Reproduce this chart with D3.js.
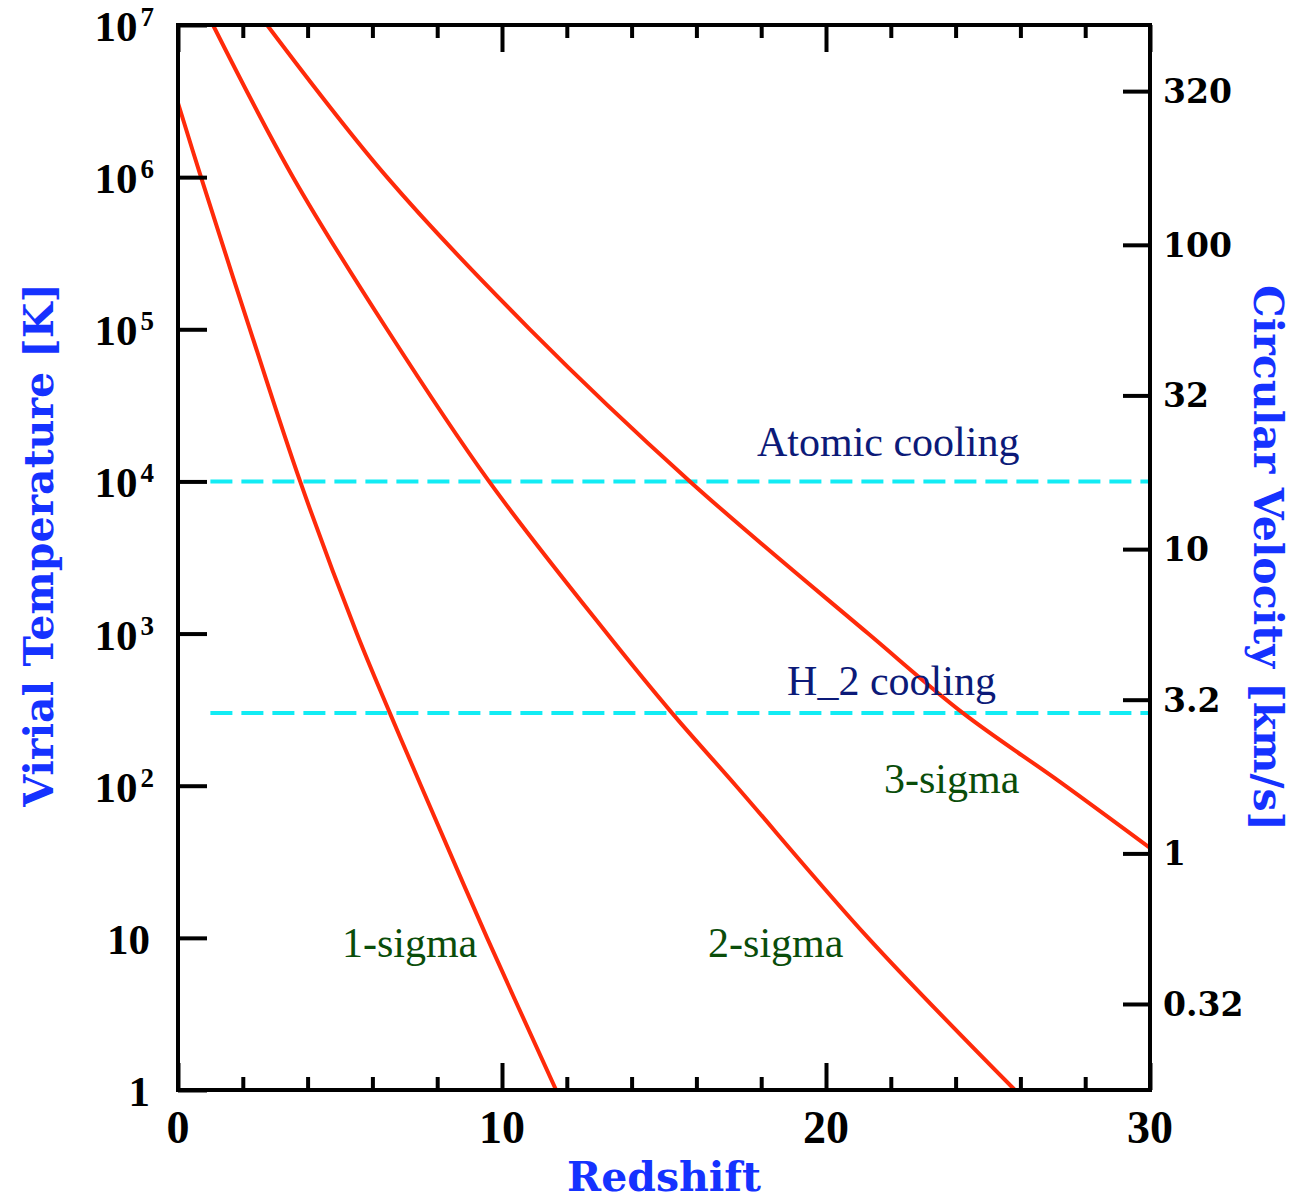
<!DOCTYPE html>
<html>
<head>
<meta charset="utf-8">
<script src="https://cdn.jsdelivr.net/npm/d3@7"></script>
<style>
  body { margin: 0; background: #fff; }
  svg { display: block; }
</style>
</head>
<body>
<svg width="1293" height="1199"></svg>
<script>
// ---- data ----
const redshiftMajor = [0, 10, 20, 30];
const redshiftMinor = [2, 4, 6, 8, 12, 14, 16, 18, 22, 24, 26, 28];
const tempTicks = [1, 10, 100, 1e3, 1e4, 1e5, 1e6, 1e7];
const velocityTicks = [0.32, 1, 3.2, 10, 32, 100, 320];
const velocityLabels = ['0.32', '1', '3.2', '10', '32', '100', '320'];

// T = tempPerV2 * v^2  (right axis conversion)
const tempPerV2 = 35.9;

const sigma1Z = [0, 0.71, 2.22, 3.77, 5.52, 6.54, 7.5, 9.54, 11.67];
const sigma1T = [3.07e6, 1e6, 1e5, 1e4, 1e3, 300, 100, 10, 1];

const sigma2Z = [1.08, 3.55, 6.45, 9.6, 13.24, 15.25, 17.22, 21.3, 25.83];
const sigma2T = [1e7, 1e6, 1e5, 1e4, 1e3, 300, 100, 10, 1];

const sigma3Z = [2.75, 6.45, 10.86, 15.8, 21.3, 24.23, 27.22, 30];
const sigma3T = [1e7, 1e6, 1e5, 1e4, 1e3, 300, 106, 39];

const coolingT = [1e4, 300];
const coolingZ = [1, 30];

const annotations = ['Atomic cooling', 'H_2 cooling', '1-sigma', '2-sigma', '3-sigma'];

// ---- layout ----
const svg = d3.select('svg');
const margin = { top: 25, left: 178, right: 143, bottom: 109 };
const width = +svg.attr('width');
const height = +svg.attr('height');
const innerWidth = width - margin.left - margin.right;
const innerHeight = height - margin.top - margin.bottom;

const x = d3.scaleLinear().domain([0, 30]).range([0, innerWidth]);
const y = d3.scaleLog().domain([1, 1e7]).range([innerHeight, 0]);
const yv = d3.scaleLog()
  .domain([Math.sqrt(1 / tempPerV2), Math.sqrt(1e7 / tempPerV2)])
  .range([innerHeight, 0]);

const g = svg.append('g')
  .attr('transform', `translate(${margin.left},${margin.top})`);

g.append('clipPath').attr('id', 'plot-clip')
  .append('rect')
  .attr('width', innerWidth)
  .attr('height', innerHeight);

// dashed cooling thresholds
g.selectAll('.cooling')
  .data(coolingT)
  .enter().append('line')
    .attr('class', 'cooling')
    .attr('x1', x(coolingZ[0]))
    .attr('x2', x(coolingZ[1]))
    .attr('y1', d => y(d))
    .attr('y2', d => y(d))
    .attr('stroke', '#12ecf4')
    .attr('stroke-width', 4)
    .attr('stroke-dasharray', '22 9');

// sigma curves
const line = d3.line()
  .x(d => x(d[0]))
  .y(d => y(d[1]))
  .curve(d3.curveCatmullRom.alpha(0.5));

const curves = [
  d3.zip(sigma1Z, sigma1T),
  d3.zip(sigma2Z, sigma2T),
  d3.zip(sigma3Z, sigma3T)
];

g.append('g')
  .attr('clip-path', 'url(#plot-clip)')
  .selectAll('path')
  .data(curves)
  .enter().append('path')
    .attr('d', line)
    .attr('fill', 'none')
    .attr('stroke', '#ff2a0a')
    .attr('stroke-width', 4);

// annotation text
const annotationPos = [
  { z: 17.87, t: 1.47e4, color: '#0c1a78' },
  { z: 18.8, t: 397, color: '#0c1a78' },
  { z: 5.06, t: 7.5, color: '#0a4d0a' },
  { z: 16.36, t: 7.5, color: '#0a4d0a' },
  { z: 21.79, t: 90, color: '#0a4d0a' }
];

g.selectAll('.note')
  .data(annotations)
  .enter().append('text')
    .attr('class', 'note')
    .attr('x', (d, i) => x(annotationPos[i].z))
    .attr('y', (d, i) => y(annotationPos[i].t))
    .attr('fill', (d, i) => annotationPos[i].color)
    .style('font-family', '"Liberation Serif", "Times New Roman", serif')
    .style('font-size', '42px')
    .text(d => d);

// ---- axes / ticks ----
const tickStyle = sel => {
  sel.select('.domain').remove();
  sel.selectAll('line').attr('stroke', '#000').attr('stroke-width', 4);
  sel.selectAll('text').remove();
};

g.append('g')
  .attr('transform', `translate(0,${innerHeight})`)
  .call(d3.axisBottom(x).tickValues(redshiftMinor).tickSize(-13))
  .call(tickStyle);
g.append('g')
  .attr('transform', `translate(0,${innerHeight})`)
  .call(d3.axisBottom(x).tickValues(redshiftMajor).tickSize(-27))
  .call(tickStyle);
g.append('g')
  .call(d3.axisTop(x).tickValues(redshiftMinor).tickSize(-13))
  .call(tickStyle);
g.append('g')
  .call(d3.axisTop(x).tickValues(redshiftMajor).tickSize(-27))
  .call(tickStyle);
g.append('g')
  .call(d3.axisLeft(y).tickValues(tempTicks).tickSize(-29))
  .call(tickStyle);
g.append('g')
  .attr('transform', `translate(${innerWidth},0)`)
  .call(d3.axisRight(yv).tickValues(velocityTicks).tickSize(-27))
  .call(tickStyle);

// frame
g.append('rect')
  .attr('width', innerWidth)
  .attr('height', innerHeight)
  .attr('fill', 'none')
  .attr('stroke', '#000')
  .attr('stroke-width', 4);

// bottom tick labels
g.selectAll('.xlab')
  .data(redshiftMajor)
  .enter().append('text')
    .attr('x', d => x(d))
    .attr('y', innerHeight + 53)
    .attr('text-anchor', 'middle')
    .style('font-family', '"Liberation Serif", serif')
    .style('font-weight', 'bold')
    .style('font-size', '46px')
    .text(d => d);

// left tick labels (10^n)
const ylab = g.selectAll('.ylab')
  .data(tempTicks)
  .enter().append('text')
    .attr('x', -24)
    .attr('y', d => y(d) + 16)
    .attr('text-anchor', 'end')
    .style('font-family', '"Liberation Serif", serif')
    .style('font-weight', 'bold')
    .style('font-size', '43px');

ylab.each(function (d) {
  const p = Math.round(Math.log10(d));
  const t = d3.select(this);
  if (p <= 1) {
    t.attr('x', -28).text(d);
  } else {
    t.append('tspan').text('10');
    t.append('tspan')
      .attr('dy', -15)
      .attr('dx', 3)
      .style('font-size', '27px')
      .text(p);
  }
});

// right tick labels
g.selectAll('.vlab')
  .data(velocityTicks)
  .enter().append('text')
    .attr('x', innerWidth + 13)
    .attr('y', d => yv(d) + 12)
    .style('font-family', '"DejaVu Serif", serif')
    .style('font-weight', 'bold')
    .style('font-size', '33px')
    .text((d, i) => velocityLabels[i]);

// axis titles
const titleFont = sel => sel
  .attr('fill', '#1532ff')
  .attr('text-anchor', 'middle')
  .style('font-family', '"DejaVu Serif", serif')
  .style('font-weight', 'bold')
  .style('font-size', '41px');

svg.append('text')
  .attr('x', 664)
  .attr('y', 1191)
  .call(titleFont)
  .text('Redshift');

svg.append('text')
  .attr('transform', 'translate(53,545) rotate(-90)')
  .call(titleFont)
  .text('Virial Temperature [K]');

svg.append('text')
  .attr('transform', 'translate(1254,558) rotate(90)')
  .call(titleFont)
  .text('Circular Velocity [km/s]');
</script>
</body>
</html>
